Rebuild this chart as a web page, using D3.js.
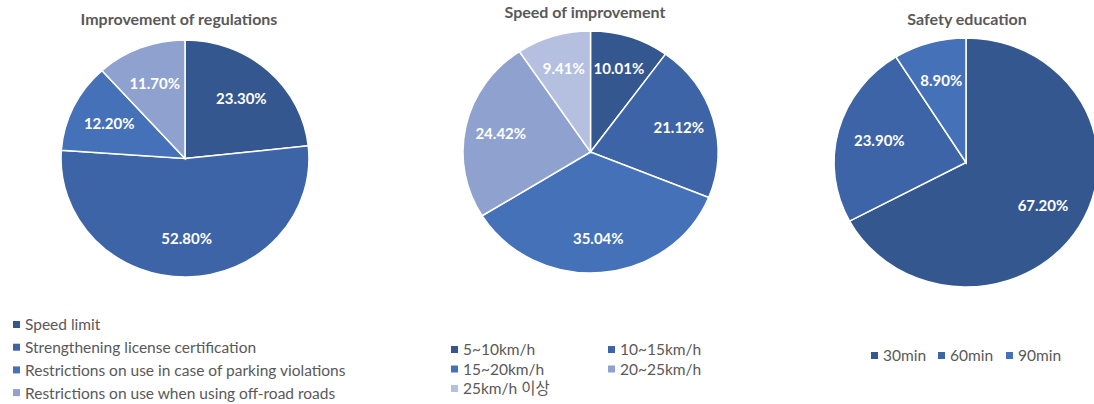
<!DOCTYPE html>
<html>
<head>
<meta charset="utf-8">
<script src="https://cdn.jsdelivr.net/npm/d3@7"></script>
<style>
  html, body { margin: 0; padding: 0; background: #ffffff; }
  svg { display: block; font-family: Lato, "Noto Sans CJK KR", sans-serif; }
</style>
</head>
<body>
<svg id="chart" width="1094" height="404"></svg>
<script>
// Survey results: share of responses (%)
const regulationCategories = [
  "Speed limit",
  "Strengthening license certification",
  "Restrictions on use in case of parking violations",
  "Restrictions on use when using off-road roads"
];
const regulationValues = [23.30, 52.80, 12.20, 11.70];

const speedCategories = ["5~10km/h", "10~15km/h", "15~20km/h", "20~25km/h", "25km/h 이상"];
const speedValues = [10.01, 21.12, 35.04, 24.42, 9.41];

const educationCategories = ["30min", "60min", "90min"];
const educationValues = [67.20, 23.90, 8.90];

const chartTitles = ["Improvement of regulations", "Speed of improvement", "Safety education"];

const palette = ["#35578f", "#3d64a6", "#4571b8", "#8ea1cf", "#b5bfe0"];

const svg = d3.select("#chart");
const textGrey = "#595959";

// Draw one pie; the plot area is slightly wider than tall, so the pie is an ellipse
function drawPie(opts) {
  const { cx, cy, r, sx, categories, values, title, titleX, titleY, labelFactor } = opts;
  const data = categories.map((c, i) => ({ name: c, value: values[i] }));
  const color = d3.scaleOrdinal().domain(categories).range(palette);

  const pie = d3.pie().value(d => d.value).sort(null);
  const arcs = pie(data);
  const arc = d3.arc().innerRadius(0).outerRadius(r);

  svg.append("text")
    .attr("x", titleX).attr("y", titleY)
    .attr("text-anchor", "middle")
    .attr("font-size", 16).attr("font-weight", "bold")
    .attr("fill", textGrey)
    .text(title);

  const g = svg.append("g").attr("transform", `translate(${cx},${cy})`);
  g.append("g").attr("transform", `scale(${sx},1)`)
    .selectAll("path").data(arcs).join("path")
    .attr("d", arc)
    .attr("fill", d => color(d.data.name))
    .attr("stroke", "#ffffff")
    .attr("stroke-width", 1.5)
    .attr("vector-effect", "non-scaling-stroke");

  const labelArc = d3.arc().innerRadius(r * labelFactor).outerRadius(r * labelFactor);
  g.selectAll("text.val").data(arcs).join("text")
    .attr("class", "val")
    .attr("x", d => labelArc.centroid(d)[0] * sx)
    .attr("y", d => labelArc.centroid(d)[1])
    .attr("dy", "0.35em")
    .attr("text-anchor", "middle")
    .attr("font-size", 15).attr("font-weight", "bold")
    .attr("fill", "#ffffff")
    .text(d => d3.format(".2f")(d.data.value) + "%");

  return color;
}

const c1 = drawPie({ cx: 185, cy: 158.5, r: 118.5, sx: 1.046, categories: regulationCategories,
  values: regulationValues, title: chartTitles[0], titleX: 179, titleY: 25, labelFactor: 0.68 });
const c2 = drawPie({ cx: 590.5, cy: 152, r: 121, sx: 1.054, categories: speedCategories,
  values: speedValues, title: chartTitles[1], titleX: 585, titleY: 18, labelFactor: 0.72 });
const c3 = drawPie({ cx: 966, cy: 162.5, r: 124.5, sx: 1.06, categories: educationCategories,
  values: educationValues, title: chartTitles[2], titleX: 967, titleY: 25, labelFactor: 0.68 });

// Legends
function legendItem(x, y, label, fill) {
  svg.append("rect").attr("x", x).attr("y", y - 4).attr("width", 7).attr("height", 7).attr("fill", fill);
  svg.append("text").attr("x", x + 12).attr("y", y).attr("dy", "0.35em")
    .attr("font-size", 15.5).attr("fill", textGrey).text(label);
}

regulationCategories.forEach((c, i) => legendItem(13, 325 + i * 22.7, c, c1(c)));

speedCategories.forEach((c, i) => {
  const col = i % 2, row = Math.floor(i / 2);
  legendItem(451 + col * 157, 350 + row * 19.5, c, c2(c));
});

const eduX = [871, 938, 1006];
educationCategories.forEach((c, i) => legendItem(eduX[i], 356, c, c3(c)));
</script>
</body>
</html>
